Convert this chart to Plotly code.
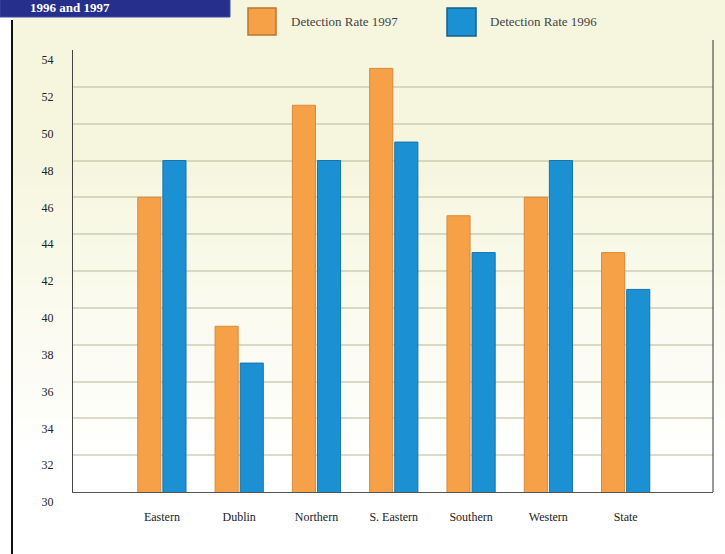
import plotly.graph_objects as go

# Garda regions and detection rates (%)
regions = ["Eastern", "Dublin", "Northern", "S. Eastern", "Southern", "Western", "State"]
rate_1997 = [46, 39, 51, 53, 45, 46, 43]
rate_1996 = [48, 37, 48, 49, 43, 48, 41]
series_names = ["Detection Rate 1997", "Detection Rate 1996"]
y_ticks = [30, 32, 34, 36, 38, 40, 42, 44, 46, 48, 50, 52, 54]
y_tick_labels = [str(v) for v in y_ticks]

ORANGE = "#f6a048"
ORANGE_EDGE = "#d9893a"
BLUE = "#1b90d3"
BLUE_EDGE = "#1673ad"
NAVY = "#262f8c"

W, H = 725, 554
L, R, T, B = 73, 713, 50, 492  # plot area in page pixels


def px(x):
    return (x - L) / (R - L)


def py(y):
    return (B - y) / (B - T)


fig = go.Figure()
fig.add_trace(go.Bar(
    x=regions, y=rate_1997, name=series_names[0],
    marker=dict(color=ORANGE, line=dict(color=ORANGE_EDGE, width=1)),
))
fig.add_trace(go.Bar(
    x=regions, y=rate_1996, name=series_names[1],
    marker=dict(color=BLUE, line=dict(color=BLUE_EDGE, width=1)),
))

shapes = []
# soft cream-to-white background wash
top_c = (246, 246, 222)
bot_c = (254, 254, 252)
n = 40
y0, y1 = 0, 440
for i in range(n):
    a = y0 + (y1 - y0) * i / n
    b = y0 + (y1 - y0) * (i + 1) / n
    t = min(1.0, max(0.0, (i / (n - 1) - 0.35) / 0.65))
    c = tuple(round(top_c[k] + (bot_c[k] - top_c[k]) * t) for k in range(3))
    shapes.append(dict(type="rect", xref="paper", yref="paper", layer="below",
                       x0=px(12), x1=px(W), y0=py(b + 1), y1=py(a),
                       fillcolor="rgb(%d,%d,%d)" % c, line=dict(width=0)))
# title banner
shapes.append(dict(type="rect", xref="paper", yref="paper",
                   x0=px(0), x1=px(230), y0=py(17), y1=py(-2),
                   fillcolor=NAVY, line=dict(color="#3c4aa8", width=1)))
# page frame line on the left
shapes.append(dict(type="line", xref="paper", yref="paper",
                   x0=px(12), x1=px(12), y0=py(20), y1=py(H),
                   line=dict(color="#111111", width=2)))
# right border of the chart box
shapes.append(dict(type="line", xref="paper", yref="paper",
                   x0=px(R), x1=px(R), y0=py(40), y1=py(B),
                   line=dict(color="#333333", width=1)))
# legend swatches
shapes.append(dict(type="rect", xref="paper", yref="paper",
                   x0=px(248), x1=px(276), y0=py(35), y1=py(8),
                   fillcolor=ORANGE, line=dict(color="#b9772f", width=1.5)))
shapes.append(dict(type="rect", xref="paper", yref="paper",
                   x0=px(447), x1=px(476), y0=py(36), y1=py(8),
                   fillcolor=BLUE, line=dict(color="#155f8f", width=1.5)))

annotations = [
    dict(text="<b>1996 and 1997</b>", xref="paper", yref="paper",
         x=px(28), y=py(8), xanchor="left", yanchor="middle", showarrow=False,
         font=dict(family="Liberation Serif", size=13, color="white")),
    dict(text=series_names[0], xref="paper", yref="paper",
         x=px(289), y=py(21), xanchor="left", yanchor="middle", showarrow=False,
         font=dict(family="Liberation Serif", size=13, color="#444444")),
    dict(text=series_names[1], xref="paper", yref="paper",
         x=px(488), y=py(21), xanchor="left", yanchor="middle", showarrow=False,
         font=dict(family="Liberation Serif", size=13, color="#444444")),
]

fig.update_layout(
    width=W, height=H,
    margin=dict(l=L, r=W - R, t=T, b=H - B, pad=0),
    paper_bgcolor="white",
    plot_bgcolor="rgba(0,0,0,0)",
    barmode="group",
    bargap=0.35,
    bargroupgap=0.08,
    showlegend=False,
    shapes=shapes,
    annotations=annotations,
    font=dict(family="Liberation Serif", color="#222222"),
)
fig.update_xaxes(
    range=[-1.15, 7.13],
    showgrid=False,
    showline=True, linecolor="#555555", linewidth=1,
    ticks="", ticklabelstandoff=14,
    tickfont=dict(family="Liberation Serif", size=12, color="#222222"),
)
fig.update_yaxes(
    range=[30, 54],
    tickvals=y_ticks, ticktext=y_tick_labels,
    showgrid=True, gridcolor="rgba(195,195,165,0.6)", gridwidth=2,
    zeroline=False,
    showline=True, linecolor="#444444", linewidth=1,
    ticks="", ticklabelstandoff=16, ticklabelshift=10,
    tickfont=dict(family="Liberation Serif", size=12, color="#222222"),
)

fig.write_html("out.html")
